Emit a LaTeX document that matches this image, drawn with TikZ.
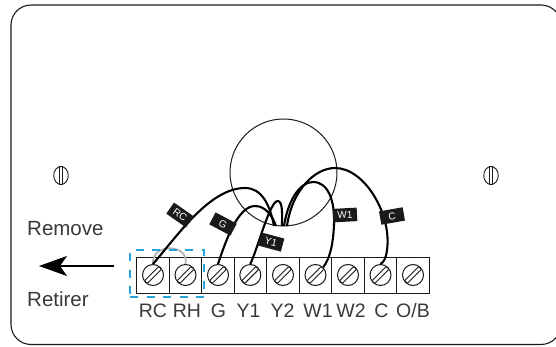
\documentclass[tikz,border=0pt]{standalone}
\usepackage{fontspec}
\setmainfont{Liberation Sans}
\usetikzlibrary{arrows.meta,shapes.geometric}
\definecolor{ink}{HTML}{1A1A1A}
\definecolor{txt}{HTML}{3A3A3A}
\definecolor{dash}{HTML}{29A3DC}
\tikzset{
  x=1pt,y=-1pt,
  case/.style={draw=ink,line width=1.1pt},
  cell/.style={draw=ink,line width=1.1pt,minimum width=32.5pt,minimum height=36.5pt,inner sep=0pt,outer sep=0pt},
  screwhead/.style={circle,draw=ink,line width=1pt,minimum size=21pt,inner sep=0pt},
  slot/.style={draw=ink,line width=0.9pt,rounded corners=1pt,rotate=45,minimum width=20pt,minimum height=4pt,inner sep=0pt},
  wire/.style={draw=black,line width=2.1pt},
  tag/.style={fill=ink,text=white,font=\fontsize{10}{10}\selectfont,minimum width=24pt,minimum height=13.5pt,inner sep=0pt},
  term/.style={text=txt,font=\fontsize{19.5}{20}\selectfont,anchor=base,inner sep=0pt},
  side/.style={text=txt,font=\fontsize{20.5}{22}\selectfont,anchor=base west,inner sep=0pt},
}
\begin{document}
\begin{tikzpicture}
\useasboundingbox (0,0) rectangle (556,347);
\clip (0,0) rectangle (556,347);
\fill[white] (0,0) rectangle (556,347);
\draw[case,rounded corners=20pt] (11,5) rectangle (561,344.5);
% mounting screws
\foreach \n/\cx in {ml/61,mr/491}{
  \node[draw=ink,ellipse,line width=0.9pt,minimum width=14.5pt,minimum height=18pt,inner sep=0pt] (\n) at (\cx,175.5) {};
  \draw[ink,line width=0.8pt] ([xshift=-1.6pt]\n.north) -- ([xshift=-1.6pt]\n.south);
  \draw[ink,line width=0.8pt] ([xshift=1.6pt]\n.north) -- ([xshift=1.6pt]\n.south);
}
% knockout circle
\node[circle,draw=ink,line width=1pt,minimum size=107pt,inner sep=0pt] (hole) at (283.5,172.5) {};
% terminals
\foreach \n/\cx/\lx/\t in {RC/153/153/RC,RH/185.5/187/RH,G/218/218.5/G,Y1/250.3/248.5/Y1,Y2/283/282.5/Y2,W1/315.5/318/W1,W2/348/351/W2,C/380.5/381.5/C,OB/413/413/{O/B}}{
  \node[cell] (cell\n) at (\cx,275.3) {};
  \node[screwhead] (s\n) at (\cx,275) {};
  \node[slot] (slot\n) at (\cx,275) {};
  \node[term] (lab\n) at (\lx,317) {\t};
}
% hub points
\coordinate (hubA) at (274,226);
\coordinate (hubB) at (276,226);
\coordinate (hubC) at (282,226);
\coordinate (hubD) at (284,226);
\coordinate (hubE) at (287,226);
% gray link
\draw[draw=black!30,line width=1.7pt] (sRC.north) .. controls (151,243) and (189,243) .. (sRH.north);
% wires
\draw[wire] (sRC.north) .. controls (178,235) and (210,188) .. (245,188) .. controls (262,188) and (270,205) .. (hubA);
\draw[wire] (sG.north) .. controls (226,240) and (238,206) .. (255,206) .. controls (265,206) and (272,215) .. (hubB);
\draw[wire] (sY1.north) .. controls (258,248) and (270,200) .. (278,201) .. controls (283,202) and (282,215) .. (hubC);
\draw[wire] (hubD) .. controls (288,200) and (300,182) .. (313,182) .. controls (328,182) and (335,200) .. (334,225) .. controls (333,245) and (330,258) .. (sW1.north east);
\draw[wire] (hubE) .. controls (292,190) and (315,168) .. (335,168) .. controls (365,168) and (392,215) .. (387,250) .. controls (386,258) and (384,262) .. (sC.north);
% tags
\node[tag,rotate=-35] (tagRC) at (180,215) {RC};
\node[tag,rotate=-28] (tagG) at (223,224) {G};
\node[tag,rotate=-15] (tagY) at (271,242) {Y1};
\node[tag,rotate=3] (tagW) at (345,215) {W1};
\node[tag,rotate=10] (tagC) at (392,216) {C};
% dashed box
\node[draw=dash,line width=2pt,dash pattern=on 8pt off 8.5pt,minimum width=74pt,minimum height=47pt,inner sep=0pt] (box) at (167,273.5) {};
% side labels and arrow
\node[side] (rem) at (27,236) {Remove};
\node[side] (ret) at (27,306) {Retirer};
\coordinate (arrowS) at (114,266);
\coordinate (arrowE) at (39,266);
\draw[-{Stealth[length=28pt,width=20pt,inset=7pt]},black,line width=1.1pt] (arrowS) -- (arrowE);
\end{tikzpicture}
\end{document}
